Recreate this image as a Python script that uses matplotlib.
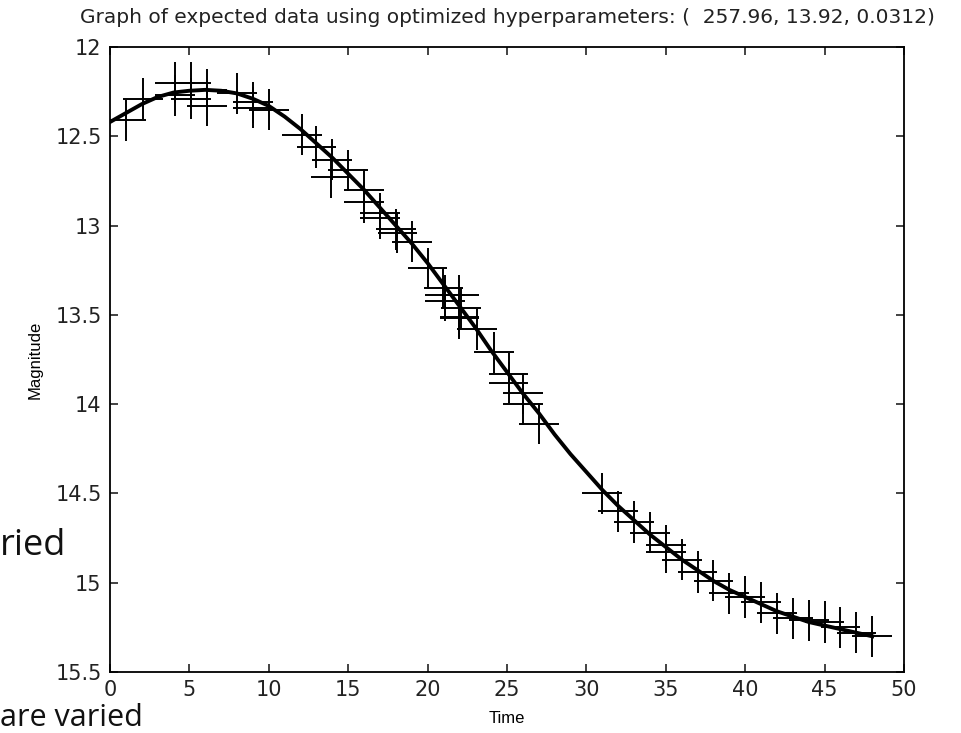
import matplotlib
matplotlib.use('Agg')
import matplotlib.pyplot as plt

# observed points (time, magnitude)
obs_time = [1.0, 2.1, 4.1, 4.1, 5.1, 5.1, 6.1, 6.1, 8.0, 9.0, 9.0, 10.0,
            12.1, 13.0, 14.0, 13.9, 15.0, 16.0, 16.0, 17.0, 17.0, 18.0, 18.1,
            19.0, 20.0, 21.0, 21.1, 21.1, 22.0, 22.1, 22.0, 22.0, 23.1, 24.2,
            25.1, 25.1, 26.0, 26.0, 27.0, 31.0, 32.0, 33.0, 34.0, 35.0, 35.0,
            36.0, 37.0, 38.0, 39.0, 40.0, 41.0, 42.0, 43.0, 44.0, 45.0, 46.0,
            47.0, 48.0]
obs_mag = [12.41, 12.29, 12.20, 12.27, 12.20, 12.29, 12.24, 12.33, 12.26, 12.31, 12.34, 12.35,
           12.49, 12.56, 12.63, 12.73, 12.69, 12.80, 12.87, 12.93, 12.96, 13.02, 13.04,
           13.09, 13.24, 13.35, 13.39, 13.42, 13.39, 13.46, 13.51, 13.52, 13.58, 13.71,
           13.83, 13.88, 13.94, 14.00, 14.11, 14.50, 14.60, 14.66, 14.72, 14.79, 14.83,
           14.87, 14.94, 14.99, 15.06, 15.08, 15.11, 15.17, 15.20, 15.21, 15.22, 15.25,
           15.28, 15.30]
time_err = 1.25
mag_err = 0.115

# expected curve
curve_time = list(range(0, 49))
curve_mag = [12.42, 12.37, 12.32, 12.28, 12.255, 12.245, 12.24, 12.245, 12.26, 12.29,
             12.33, 12.39, 12.46, 12.54, 12.62, 12.71, 12.80, 12.90, 13.00, 13.10,
             13.21, 13.33, 13.45, 13.57, 13.70, 13.82, 13.94, 14.05, 14.17, 14.28,
             14.38, 14.48, 14.57, 14.65, 14.73, 14.80, 14.87, 14.93, 14.99, 15.04,
             15.08, 15.12, 15.16, 15.19, 15.22, 15.24, 15.26, 15.28, 15.30]

xticks = list(range(0, 51, 5))
yticks = [12, 12.5, 13, 13.5, 14, 14.5, 15, 15.5]
ytick_labels = ['12', '12.5', '13', '13.5', '14', '14.5', '15', '15.5']

plt.rcParams['font.family'] = ['DejaVu Sans']

fig = plt.figure(figsize=(9.62, 7.33), dpi=100)

# slide text sitting behind the figure
fig.text(0.0, 1 - 555 / 733, 'ried', fontsize=26, family='Open Sans', color='#111111', va='baseline')
fig.text(0.0, 1 - 726 / 733, 'are varied', fontsize=22, family='Open Sans', color='#111111', va='baseline')

ax = fig.add_axes([110 / 962, 1 - 672 / 733, 794 / 962, 625 / 733])
ax.errorbar(obs_time, obs_mag, xerr=time_err, yerr=mag_err, fmt='none',
            ecolor='black', elinewidth=1.4, capsize=0)
ax.plot(curve_time, curve_mag, color='black', lw=2.8)

ax.set_xlim(0, 50)
ax.set_ylim(15.5, 12)
ax.set_xticks(xticks)
ax.set_yticks(yticks)
ax.set_yticklabels(ytick_labels)
ax.tick_params(direction='in', length=6, width=1.2, top=True, right=True,
               labelsize=15, pad=6, colors='#222222')
for s in ax.spines.values():
    s.set_linewidth(1.3)

ax.set_title('Graph of expected data using optimized hyperparameters: (  257.96, 13.92, 0.0312)',
             fontsize=14.5, pad=17, color='#222222')
ax.set_xlabel('Time', fontsize=12, labelpad=8, family='Liberation Sans')
ax.set_ylabel('Magnitude', fontsize=12, labelpad=9, family='Liberation Sans')

fig.savefig('out.png', dpi=100)
